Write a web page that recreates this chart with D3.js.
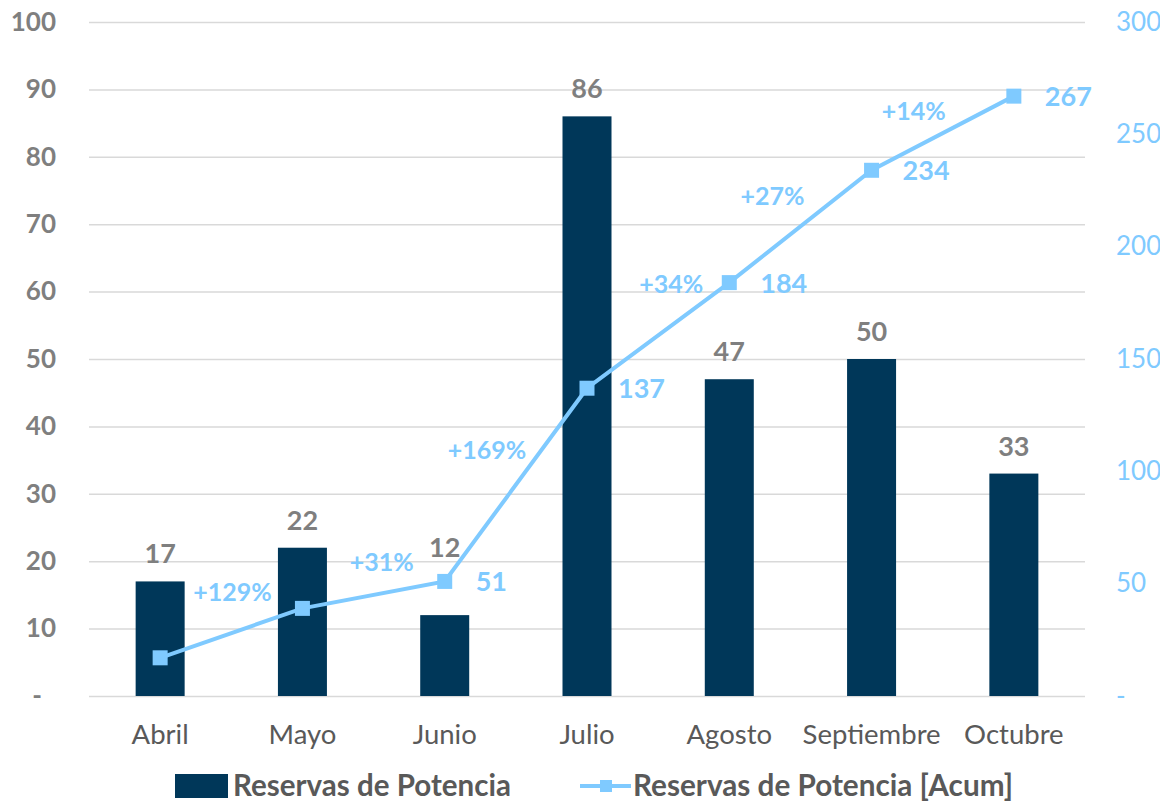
<!DOCTYPE html>
<html>
<head>
<meta charset="utf-8">
<script src="https://cdn.jsdelivr.net/npm/d3@7"></script>
<style>
  body { margin: 0; background: #fff; }
  svg text { font-family: Lato, "Open Sans", sans-serif; }
</style>
</head>
<body>
<div id="chart"></div>
<script>
      var w = 1160;
      var h = 801;

      var months = ['Abril', 'Mayo', 'Junio', 'Julio', 'Agosto', 'Septiembre', 'Octubre'];
      var reservas = [17, 22, 12, 86, 47, 50, 33];
      var acumulado = [17, 39, 51, 137, 184, 234, 267];
      var crecimiento = ['', '+129%', '+31%', '+169%', '+34%', '+27%', '+14%'];
      var leftTicks = [0, 10, 20, 30, 40, 50, 60, 70, 80, 90, 100];
      var rightTicks = [0, 50, 100, 150, 200, 250, 300];

      // label offsets of the growth labels, relative to their marker
      var pctOffsets = [[0, 0], [-70, -16], [-63, -19], [-100, 62], [-58, 1], [-99, 26], [-100, 15]];
      // the Junio bar label was moved up, clear of the line
      var barLblShift = [0, 0, -40, 0, 0, 0, 0];

      var pLeft = 89, pRight = 1085, pTop = 22, pBottom = 696;

      var xScale = d3.scaleBand()
                     .domain(months)
                     .range([pLeft, pRight]);

      var yLeft = d3.scaleLinear().domain([0, 100]).range([pBottom, pTop]);
      var yRight = d3.scaleLinear().domain([0, 300]).range([pBottom, pTop]);

      var svg = d3.select('#chart')
            .append('svg')
            .attr('width', w)
            .attr('height', h);

      //gridlines
      svg.append('g')
         .selectAll('line')
         .data(leftTicks)
         .enter()
         .append('line')
         .attr('x1', pLeft)
         .attr('x2', pRight)
         .attr('y1', function(d) { return yLeft(d) + 0.5; })
         .attr('y2', function(d) { return yLeft(d) + 0.5; })
         .attr('stroke', '#d9d9d9')
         .attr('stroke-width', 1.5);

      //left axis
      var yAxisL = d3.axisLeft(yLeft)
                     .tickValues(leftTicks)
                     .tickSize(0)
                     .tickPadding(0)
                     .tickFormat(function(d) { return d === 0 ? '-' : d; });
      var gl = svg.append('g')
         .attr('transform', 'translate(56,0)')
         .call(yAxisL);
      gl.select('.domain').remove();
      gl.selectAll('text')
        .attr('fill', '#7f7f7f')
        .attr('font-family', 'Lato, sans-serif')
        .attr('font-size', 26)
        .attr('font-weight', 'bold')
        .attr('dx', function(d) { return d === 0 ? -14 : 0; });

      //right axis
      var yAxisR = d3.axisRight(yRight)
                     .tickValues(rightTicks)
                     .tickSize(0)
                     .tickPadding(0)
                     .tickFormat(function(d) { return d === 0 ? '-' : d; });
      var gr = svg.append('g')
         .attr('transform', 'translate(1116,0)')
         .call(yAxisR);
      gr.select('.domain').remove();
      gr.selectAll('text')
        .attr('fill', '#7fcaff')
        .attr('font-family', 'Lato, sans-serif')
        .attr('font-size', 26);

      //x axis labels
      var xAxis = d3.axisBottom(xScale).tickSize(0).tickPadding(0);
      var gx = svg.append('g')
         .attr('transform', 'translate(0,' + 724 + ')')
         .call(xAxis);
      gx.select('.domain').remove();
      gx.selectAll('text')
        .attr('fill', '#595959')
        .attr('font-family', 'Lato, sans-serif')
        .attr('font-size', 27.5);

      var barW = 49;
      function cx(i) { return xScale(months[i]) + xScale.bandwidth() / 2; }

      //bars
      svg.selectAll('rect.bar')
         .data(reservas)
         .enter()
         .append('rect')
         .attr('class', 'bar')
         .attr('x', function(d, i) { return cx(i) - barW / 2; })
         .attr('y', function(d) { return yLeft(d); })
         .attr('width', barW)
         .attr('height', function(d) { return pBottom - yLeft(d); })
         .attr('fill', '#003759');

      svg.selectAll('text.barlbl')
         .data(reservas)
         .enter()
         .append('text')
         .attr('class', 'barlbl')
         .attr('x', function(d, i) { return cx(i); })
         .attr('y', function(d, i) { return yLeft(d) - 18 + barLblShift[i]; })
         .attr('text-anchor', 'middle')
         .attr('fill', '#7f7f7f')
         .attr('font-size', 27)
         .attr('font-weight', 'bold')
         .text(function(d) { return d; });

      //acum line
      var line = d3.line()
                   .x(function(d, i) { return cx(i); })
                   .y(function(d) { return yRight(d); });

      svg.append('path')
         .datum(acumulado)
         .attr('d', line)
         .attr('fill', 'none')
         .attr('stroke', '#7fcaff')
         .attr('stroke-width', 4);

      svg.selectAll('rect.mk')
         .data(acumulado)
         .enter()
         .append('rect')
         .attr('class', 'mk')
         .attr('x', function(d, i) { return cx(i) - 7.5; })
         .attr('y', function(d) { return yRight(d) - 7.5; })
         .attr('width', 15)
         .attr('height', 15)
         .attr('fill', '#7fcaff');

      svg.selectAll('text.acum')
         .data(acumulado)
         .enter()
         .append('text')
         .attr('class', 'acum')
         .attr('x', function(d, i) { return cx(i) + 31; })
         .attr('y', function(d) { return yRight(d) + 10; })
         .attr('fill', '#7fcaff')
         .attr('font-size', 27)
         .attr('font-weight', 'bold')
         .text(function(d, i) { return i >= 2 ? d : ''; });

      svg.selectAll('text.pct')
         .data(crecimiento)
         .enter()
         .append('text')
         .attr('class', 'pct')
         .attr('x', function(d, i) { return cx(i) + pctOffsets[i][0]; })
         .attr('y', function(d, i) { return yRight(acumulado[i]) + pctOffsets[i][1] + 9; })
         .attr('text-anchor', 'middle')
         .attr('fill', '#7fcaff')
         .attr('font-size', 25)
         .attr('font-weight', 'bold')
         .text(function(d) { return d; });

      //legend
      var lg = svg.append('g');
      lg.append('rect')
        .attr('x', 175).attr('y', 774)
        .attr('width', 53).attr('height', 24)
        .attr('fill', '#003759');
      lg.append('text')
        .attr('x', 233).attr('y', 796)
        .attr('fill', '#595959')
        .attr('font-size', 29.5)
        .attr('font-weight', 'bold')
        .attr('textLength', 278)
        .attr('lengthAdjust', 'spacingAndGlyphs')
        .text('Reservas de Potencia');
      lg.append('line')
        .attr('x1', 580).attr('x2', 631)
        .attr('y1', 786).attr('y2', 786)
        .attr('stroke', '#7fcaff')
        .attr('stroke-width', 4);
      lg.append('rect')
        .attr('x', 600).attr('y', 780)
        .attr('width', 12).attr('height', 12)
        .attr('fill', '#7fcaff');
      lg.append('text')
        .attr('x', 633).attr('y', 796)
        .attr('fill', '#595959')
        .attr('font-size', 29.5)
        .attr('font-weight', 'bold')
        .attr('textLength', 380)
        .attr('lengthAdjust', 'spacingAndGlyphs')
        .text('Reservas de Potencia [Acum]');
</script>
</body>
</html>
